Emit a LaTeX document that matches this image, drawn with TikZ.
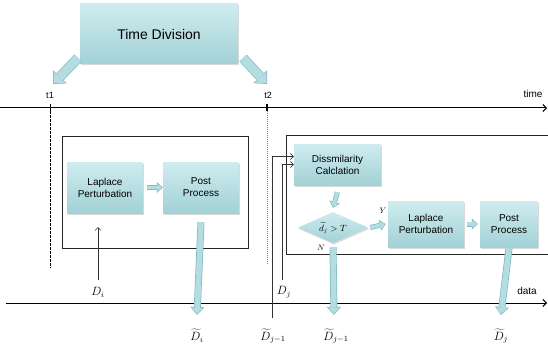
\documentclass[tikz,border=0pt]{standalone}
\usepackage{fontspec}
\setmainfont{Liberation Sans}
\usetikzlibrary{arrows.meta,shapes.geometric,shadows,calc}
\definecolor{boxtop}{HTML}{CFECEF}
\definecolor{boxbot}{HTML}{A2D1D6}
\definecolor{arrfill}{HTML}{B4DDE2}
\definecolor{arredge}{HTML}{7FBAC1}
\definecolor{dashgray}{HTML}{808080}
\newcommand\blk[3]{\draw[#1out] #2 -- #3; \draw[#1in] #2 -- #3;}
\begin{document}
\begin{tikzpicture}[x=1pt,y=-1pt,
  stdbox/.style={rectangle, top color=boxtop, bottom color=boxbot, draw=none,
    drop shadow={shadow xshift=1pt, shadow yshift=-1.5pt, opacity=0.3},
    align=center, font=\fontsize{10}{12}\selectfont, inner sep=0pt},
  frame/.style={draw=black!85, line width=0.8pt},
  axis/.style={draw=black, line width=1pt, -{Straight Barb[length=3.5pt,width=7pt]}},
  thinarr/.style={draw=black!80, line width=0.7pt, -{Straight Barb[length=3pt,width=6pt]}},
  lbl/.style={font=\fontsize{9}{11}\selectfont, inner sep=0pt},
  mlbl/.style={font=\fontsize{12}{14}\selectfont, inner sep=0pt},
  smallout/.style={arredge, line width=5pt, -{Triangle[width=11pt,length=6pt,line width=0pt]}},
  smallin/.style={arrfill, line width=3.6pt, -{Triangle[width=7.8pt,length=4.26pt,line width=0pt]}, shorten >=1.04pt},
  bigout/.style={arredge, line width=7pt, -{Triangle[width=14pt,length=8pt,line width=0pt]}},
  bigin/.style={arrfill, line width=5.6pt, -{Triangle[width=10.9pt,length=6.2pt,line width=0pt]}, shorten >=1.07pt},
  diagout/.style={arredge, line width=10pt, -{Triangle[width=19pt,length=10pt,line width=0pt]}},
  diagin/.style={arrfill, line width=8.6pt, -{Triangle[width=15.7pt,length=8.28pt,line width=0pt]}, shorten >=1.02pt},
]
\useasboundingbox (0,0) rectangle (548,350);

% frames
\draw[frame] (62,136) rectangle (248,248);
\draw[frame] (548,135) -- (286,135) -- (286,254) -- (548,254);

% nodes
\node[stdbox, minimum width=158pt, minimum height=60pt, font=\fontsize{14}{16}\selectfont] (tdiv) at (159,34) {Time Division};
\node[stdbox, minimum width=76pt, minimum height=51pt] (lap1) at (105,187.5) {Laplace\\Perturbation};
\node[stdbox, minimum width=76pt, minimum height=51pt] (pp1) at (201,187.5) {Post\\Process};
\node[stdbox, minimum width=87pt, minimum height=41pt] (dis) at (337.5,164.5) {Dissmilarity\\Calclation};
\node[diamond, aspect=2.26, minimum width=70pt, minimum height=31pt, inner sep=0pt,
  top color=boxtop, bottom color=boxbot, draw=none,
  drop shadow={shadow xshift=1pt, shadow yshift=-1.5pt, opacity=0.3},
  font=\fontsize{9}{11}\selectfont] (dia) at (333,227.5) {$\widetilde{d}_j > T$};
\node[stdbox, minimum width=76pt, minimum height=46pt] (lap2) at (426,224) {Laplace\\Perturbation};
\node[stdbox, minimum width=58pt, minimum height=46pt] (pp2) at (509,224) {Post\\Process};

% text labels
\node[lbl] (lt1) at (50,95) {t1};
\node[lbl] (lt2) at (268,95) {t2};
\node[lbl, font=\fontsize{10}{12}\selectfont] (ltime) at (533,94) {time};
\node[lbl, font=\fontsize{10}{12}\selectfont] (ldata) at (527,291) {data};
\node[lbl, font=\fontsize{8}{10}\selectfont] (lY) at (383,211) {$Y$};
\node[lbl, font=\fontsize{8}{10}\selectfont] (lN) at (321,248) {$N$};
\node[mlbl] (lDi) at (98,292) {$D_i$};
\node[mlbl] (lDj) at (284,292) {$D_j$};
\node[mlbl] (lDti) at (197,336) {$\widetilde{D}_i$};
\node[mlbl] (lDtj1a) at (273,336) {$\widetilde{D}_{j-1}$};
\node[mlbl] (lDtj1b) at (336,336) {$\widetilde{D}_{j-1}$};
\node[mlbl] (lDtj) at (501,336) {$\widetilde{D}_j$};

% coordinates
\coordinate (ts) at (0,108);
\coordinate (te) at (547,108);
\coordinate (ds) at (6,303);
\coordinate (de) at (547,303);
\coordinate (t1a) at (50,104);
\coordinate (t1b) at (50,111);
\coordinate (t1c) at (50,268);
\coordinate (t2a) at (267,104);
\coordinate (t2b) at (267,111);
\coordinate (t2c) at (267,265);
\coordinate (ga) at (78,58);
\coordinate (gb) at (53,84);
\coordinate (gc) at (243,58);
\coordinate (gd) at (267,84);
\coordinate (dib) at (98,280);
\coordinate (dit) at (98,227);
\coordinate (djb) at (282,280);
\coordinate (dj1b) at (272,318);
\coordinate (ei) at (197,315);
\coordinate (ej1) at (334,315);
\coordinate (ej) at (501,315);

% axes
\draw[axis] (ts) -- (te);
\draw[axis] (ds) -- (de);
\draw[line width=1pt] (t1a) -- (t1b);
\draw[line width=2pt] (t2a) -- (t2b);
\draw[black, line width=0.8pt, dash pattern=on 2.5pt off 1.5pt] (t1b) -- (t1c);
\draw[dashgray, line width=1pt, dash pattern=on 1pt off 1pt] (t2b) -- (t2c);

% time division arrows
\blk{diag}{(ga)}{(gb)}
\blk{diag}{(gc)}{(gd)}

% thin connectors
\draw[thinarr] (dib) -- (dit);
\draw[thinarr] (djb) |- (dis.west);
\draw[thinarr] (dj1b) |- ($(dis.west)+(0,-8)$);

% block arrows
\blk{small}{($(lap1.east)+(4,0)$)}{(pp1.west)}
\blk{big}{($(pp1.south)+(0,9)$)}{(ei)}
\blk{small}{($(dis.south)+(0,7)$)}{($(dia.north)+(0,-4)$)}
\blk{small}{($(dia.east)+(2,0)$)}{($(lap2.west)+(-2,0)$)}
\blk{small}{($(lap2.east)+(3,0)$)}{($(pp2.west)+(-2,0)$)}
\blk{big}{($(dia.south)+(0,4)$)}{(ej1)}
\blk{big}{($(pp2.south)+(0,1)$)}{(ej)}
\end{tikzpicture}
\end{document}
